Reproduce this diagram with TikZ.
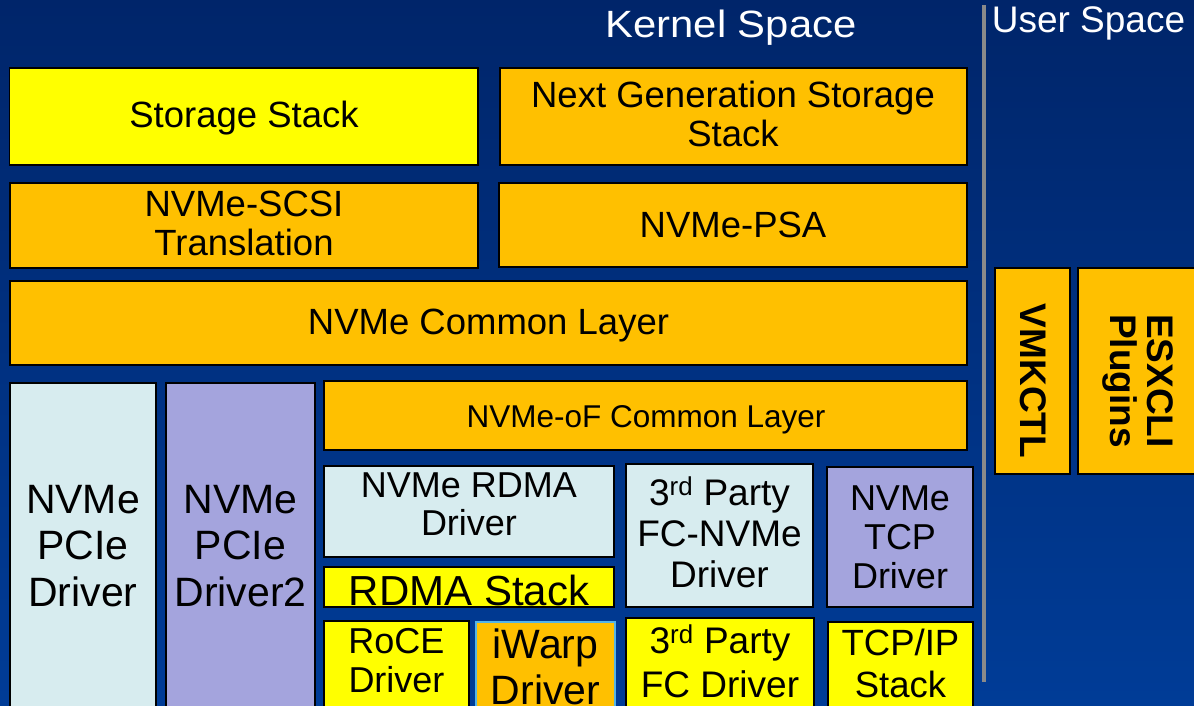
\documentclass[tikz,border=0pt]{standalone}
\usepackage{fontspec}
\setmainfont{Liberation Sans}
\usetikzlibrary{fit}
\newcommand{\mlines}[1]{\begin{tabular}[t]{@{}c@{}}#1\end{tabular}}
\newcommand{\fsz}[2]{\fontsize{#1}{#2}\selectfont}
\definecolor{bgtop}{HTML}{00256A}
\definecolor{bgbot}{HTML}{003C97}
\definecolor{yel}{HTML}{FFFF00}
\definecolor{org}{HTML}{FFC000}
\definecolor{lblue}{HTML}{D7ECEF}
\definecolor{lav}{HTML}{A4A4DD}
\definecolor{sepgray}{HTML}{8A8A8A}
\definecolor{iwborder}{HTML}{55B4E6}
\tikzset{
  box/.style={draw=black, line width=1.6pt, inner sep=0pt},
  lbl/.style={anchor=base, inner sep=0pt, text=black},
  title/.style={anchor=base, inner sep=0pt, text=white},
}
\begin{document}
\begin{tikzpicture}[x=1pt,y=-1pt]
\useasboundingbox (0,0) rectangle (1194,706);
\clip (0,0) rectangle (1194,706);
\fill[top color=bgtop, bottom color=bgbot] (0,0) rectangle (1194,706);

% titles
\node[title, xscale=1.1] (kernel) at (731,38) {\fsz{38}{42}Kernel Space};
\node[title] (user) at (1088.5,33) {\fsz{37}{41}User Space};

% separator
\coordinate (septop) at (984,5);
\coordinate (sepbot) at (984,682);
\draw[sepgray, line width=3.5pt] (septop) -- (sepbot);

% boxes
\node[box, fill=yel, fit={(9.5,68) (478,165)}] (ss) {};
\node[box, fill=org, fit={(500,68) (967,165)}] (ngs) {};
\node[box, fill=org, fit={(10,183) (478,268)}] (scsi) {};
\node[box, fill=org, fit={(499,183) (967,267)}] (psa) {};
\node[box, fill=org, fit={(10,281) (967,365)}] (common) {};
\node[box, fill=lblue, fit={(10,383) (156,720)}] (pcie) {};
\node[box, fill=lav, fit={(166,383) (315,720)}] (pcie2) {};
\node[box, fill=org, fit={(324,381) (967,450)}] (nvmeof) {};
\node[box, fill=lblue, fit={(324,466) (614,557)}] (rdmadrv) {};
\node[box, fill=yel, fit={(324,567) (614,607)}] (rdmastack) {};
\node[box, fill=yel, fit={(324,621) (469,720)}] (roce) {};
\node[draw=iwborder, line width=1.2pt, inner sep=0pt, fill=org, fit={(476,622) (615,720)}] (iwarp) {};
\node[box, fill=lblue, fit={(626,464) (813,607)}] (fcnvme) {};
\node[box, fill=lav, fit={(827,467) (973,607)}] (tcpdrv) {};
\node[box, fill=yel, fit={(626,618) (814,720)}] (fcdrv) {};
\node[box, fill=yel, fit={(828,622) (973,720)}] (tcpip) {};
\node[box, fill=org, fit={(995,268) (1070,474)}] (vmkctl) {};
\node[box, fill=org, fit={(1078,268) (1210,474)}] (esxcli) {};

% labels
\node[lbl] (tss) at (244,128) {\fsz{36.5}{39}Storage Stack};
\node[lbl] (tngs) at (733,108) {\fsz{36.5}{39}\mlines{Next Generation Storage\\Stack}};
\node[lbl] (tscsi) at (244,216) {\fsz{36.5}{39}\mlines{NVMe-SCSI\\Translation}};
\node[lbl] (tpsa) at (733,237) {\fsz{36.5}{39}NVMe-PSA};
\node[lbl] (tcommon) at (488.5,334) {\fsz{36.5}{39}NVMe Common Layer};
\node[lbl] (tnvmeof) at (646,427) {\fsz{31.5}{35}NVMe-oF Common Layer};
\node[lbl] (tpcie) at (83,513) {\fsz{41}{46.5}\mlines{NVMe\\PCIe\\Driver}};
\node[lbl] (tpcie2) at (240.5,513) {\fsz{41}{46.5}\mlines{NVMe\\PCIe\\Driver2}};
\node[lbl] (trdmadrv) at (469,497) {\fsz{36}{38}\mlines{NVMe RDMA\\Driver}};
\node[lbl] (trdmastack) at (469,605) {\fsz{42}{46}RDMA Stack};
\node[lbl] (troce) at (396.5,653) {\fsz{36}{39}\mlines{RoCE\\Driver}};
\node[lbl] (tiwarp) at (545.5,658) {\fsz{41}{46}\mlines{iWarp\\Driver}};
\node[lbl] (tfcnvme) at (719.5,505) {\fsz{37}{41}\mlines{3\textsuperscript{rd} Party\\FC-NVMe\\Driver}};
\node[lbl] (ttcpdrv) at (900,510) {\fsz{36}{39}\mlines{NVMe\\TCP\\Driver}};
\node[lbl] (tfcdrv) at (720,653) {\fsz{37}{44}\mlines{3\textsuperscript{rd} Party\\FC Driver}};
\node[lbl] (ttcpip) at (900.5,655) {\fsz{36.5}{42}\mlines{TCP/IP\\Stack}};
\node[lbl, rotate=-90] (tvmkctl) at (1020,381) {\fsz{37}{40}\bfseries VMKCTL};
\node[lbl, rotate=-90] (tesxcli) at (1147,381) {\fsz{37}{33}\bfseries\mlines{ESXCLI\\Plugins}};
\end{tikzpicture}
\end{document}
